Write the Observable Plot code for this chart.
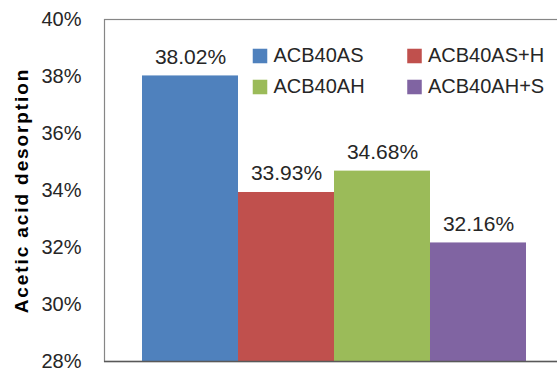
<!DOCTYPE html>
<html>
<head>
<meta charset="utf-8">
<script src="https://cdn.jsdelivr.net/npm/d3@7"></script>
<script src="https://cdn.jsdelivr.net/npm/@observablehq/plot@0.6"></script>
<style>
  html, body { margin: 0; padding: 0; background: #fff; }
  #chart svg { display: block; }
</style>
</head>
<body>
<div id="chart"></div>
<script>
// Acetic acid desorption per sample
const samples = ["ACB40AS", "ACB40AS+H", "ACB40AH", "ACB40AH+S"];
const desorption = [38.02, 33.93, 34.68, 32.16];
const barColors = ["#4F81BD", "#C0504D", "#9BBB59", "#8064A2"];
const yTicks = [28, 30, 32, 34, 36, 38, 40];
const yTitle = "Acetic acid desorption";

const yMin = yTicks[0];
const yMax = yTicks[yTicks.length - 1];
const rows = samples.map((sample, i) => ({ sample, value: desorption[i] }));
const pct = (v) => d3.format(".2f")(v) + "%";

const ink = "#262626";

// 2 x 2 legend inside the upper-right of the plot area
const legendMarks = samples.flatMap((s, i) => {
  const col = i % 2, row = Math.floor(i / 2);
  const dx = 155.5 + col * 154.5;
  const dy = 36.5 + row * 31;
  return [
    Plot.dot([s], { frameAnchor: "top-left", dx, dy, symbol: "square", r: 8.2, fill: (d) => d }),
    Plot.text([s], { frameAnchor: "top-left", dx: dx + 13.5, dy, text: (d) => d,
      textAnchor: "start", lineAnchor: "middle", fontSize: 20, fill: ink })
  ];
});

const chart = Plot.plot({
  width: 557,
  height: 373,
  marginLeft: 104,
  marginRight: -6,
  marginTop: 19,
  marginBottom: 12,
  style: { fontFamily: "'Liberation Sans', Arial, sans-serif", color: ink, background: "#fff" },
  x: { domain: samples, paddingInner: 0, paddingOuter: 0.385, axis: null },
  y: { domain: [yMin, yMax], axis: null },
  color: { domain: samples, range: barColors },
  marks: [
    Plot.frame({ stroke: "#868686", strokeWidth: 1.2 }),
    Plot.barY(rows, { x: "sample", y1: yMin, y2: "value", fill: "sample", inset: 0 }),
    Plot.ruleY([yMin], { stroke: "#595959", strokeWidth: 1.5 }),
    Plot.axisY({ ticks: yTicks, tickFormat: (d) => d + "%", tickSize: 0, tickPadding: 23,
      fontSize: 20, label: null }),
    Plot.text([yTitle], { frameAnchor: "left", dx: -83, rotate: -90, text: (d) => d,
      textAnchor: "middle", lineAnchor: "middle", fontSize: 19, fontWeight: "bold",
      fill: "#000" }),
    Plot.text(rows, { x: "sample", y: "value", text: (d) => pct(d.value),
      lineAnchor: "bottom", dy: -12, fontSize: 21, fill: ink }),
    ...legendMarks
  ]
});

// widen the tracking of the axis title
chart.querySelectorAll("text").forEach((t) => {
  if (t.textContent === yTitle) t.style.letterSpacing = "1.9px";
});

document.getElementById("chart").append(chart);
</script>
</body>
</html>
